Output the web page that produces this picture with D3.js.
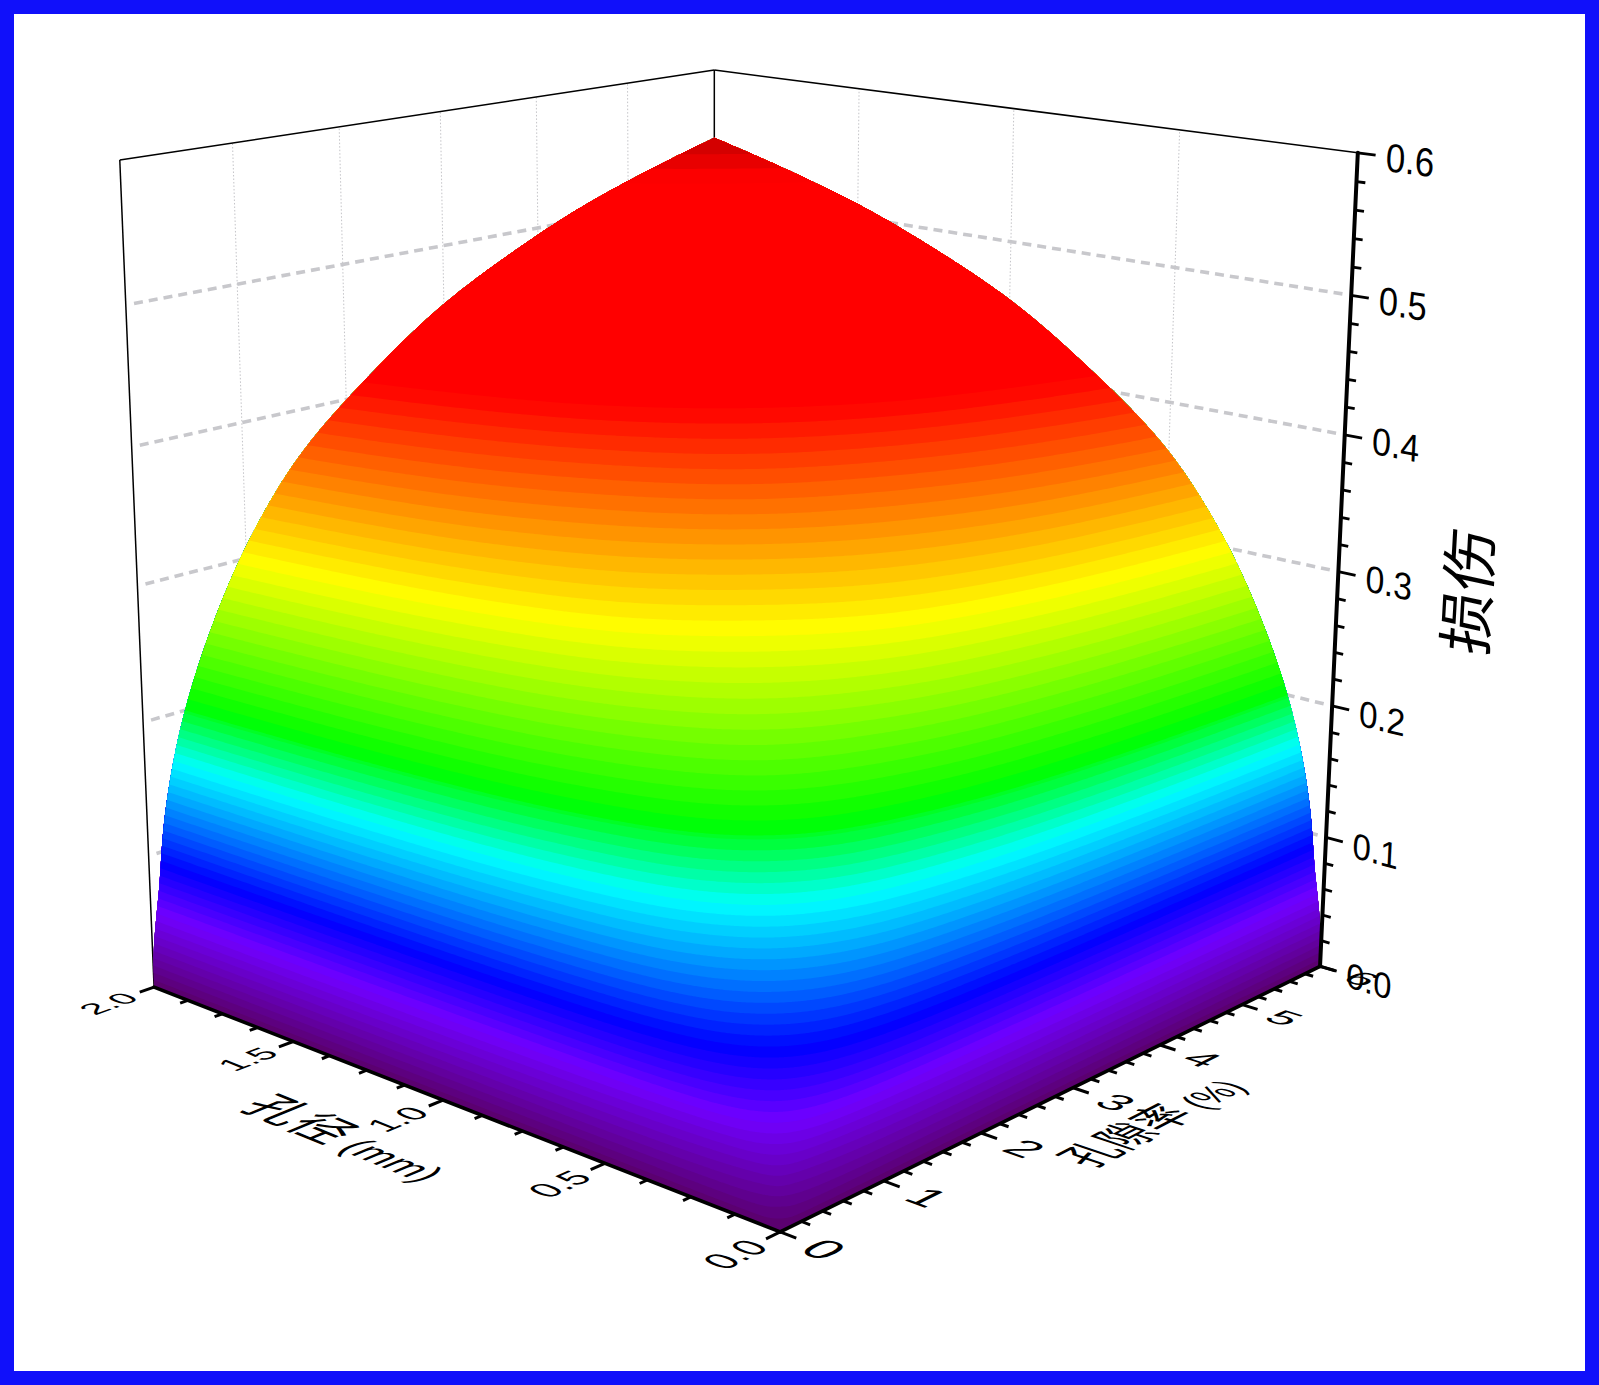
<!DOCTYPE html>
<html><head><meta charset="utf-8">
<script src="https://cdnjs.cloudflare.com/ajax/libs/d3/7.8.5/d3.min.js"></script>
<style>html,body{margin:0;padding:0;background:#fff}svg{display:block}</style>
</head><body><svg id="c" width="1599" height="1385"></svg>
<script>
// ---- data ----
const diameters = [0,0.025,0.05,0.1,0.2,0.35,0.5,0.75,1,1.25,1.5,1.75,2];
const porosities = [0,0.075,0.15,0.3,0.6,1.05,1.5,2.25,3,3.75,4.5,5.25,6];
// damage: one row per porosity, one column per diameter
const damage = [
[0,0,0,0,0,0,0,0,0,0,0,0,0],
[0,.0085,.0150,.0222,.0307,.0394,.0454,.0519,.0570,.0607,.0638,.0662,.0683],
[0,.0150,.0264,.0390,.0541,.0693,.0799,.0913,.1003,.1069,.1123,.1165,.1201],
[0,.0222,.0390,.0577,.0799,.1024,.1180,.1349,.1482,.1579,.1659,.1721,.1775],
[0,.0307,.0541,.0799,.1106,.1417,.1634,.1868,.2052,.2187,.2297,.2383,.2457],
[0,.0394,.0693,.1024,.1417,.1818,.2095,.2395,.2631,.2804,.2945,.3055,.3150],
[0,.0454,.0799,.1180,.1634,.2095,.2415,.2760,.3032,.3231,.3395,.3522,.3631],
[0,.0519,.0913,.1349,.1868,.2395,.2760,.3154,.3465,.3693,.3880,.4025,.4150],
[0,.0570,.1003,.1482,.2052,.2631,.3032,.3465,.3807,.4057,.4263,.4422,.4559],
[0,.0607,.1069,.1579,.2187,.2804,.3231,.3693,.4057,.4325,.4544,.4713,.4859],
[0,.0638,.1123,.1659,.2297,.2945,.3395,.3880,.4263,.4544,.4773,.4952,.5105],
[0,.0662,.1165,.1721,.2383,.3055,.3522,.4025,.4422,.4713,.4952,.5137,.5296],
[0,.0683,.1201,.1775,.2457,.3150,.3631,.4150,.4559,.4859,.5105,.5296,.546]];
const diamTicks = [0,0.5,1,1.5,2];
const diamLabels = ["0.0","0.5","1.0","1.5","2.0"];
const poroTicks = [0,1,2,3,4,5,6];
const poroLabels = ["0","1","2","3","4","5","6"];
const zTicks = [0,0.1,0.2,0.3,0.4,0.5,0.6];
const zLabels = ["0.0","0.1","0.2","0.3","0.4","0.5","0.6"];
const colorStops = [0,0.056,0.092,0.165,0.205,0.30,0.41,0.525,0.546,0.6];
const colorValues = ["#5a0069","#7000ff","#0000ff","#00ffff","#00ff00","#ffff00","#ff0000","#ff0000","#c80000","#800000"];
const levelStepLow = 0.0055, levelStepHigh = 0.0075, levelSplit = 0.2;

// ---- scales into the unit cube ----
const sd = d3.scaleLinear([0,2],[0,1]);
const sp = d3.scaleLinear([0,6],[0,1]);
const sz = d3.scaleLinear([0,0.6],[0,1]);
const colour = d3.scaleLinear(colorStops,colorValues).interpolate(d3.interpolateRgb).clamp(true);

// ---- camera: solved from where the cube's corners sit on screen ----
const anchors = [
 [[0,0,0],[780,1232]],[[1,0,0],[154,987]],[[0,1,0],[1320,966]],[[1,1,0],[714,788]],
 [[1,0,1],[120,160]],[[0,1,1],[1358,153]],[[1,1,1],[714,70]]];
function solveCamera(){
  const A=[],b=[];
  anchors.forEach(([[X,Y,Z],[u0,v0]])=>{
    const u=u0/1000,v=v0/1000;
    A.push([X,Y,Z,1,0,0,0,0,-u*X,-u*Y,-u*Z]);b.push(u);
    A.push([0,0,0,0,X,Y,Z,1,-v*X,-v*Y,-v*Z]);b.push(v);
  });
  const n=11,M=d3.range(n).map(i=>d3.range(n+1).map(j=>{
    let s=0;for(let r=0;r<A.length;r++)s+=A[r][i]*(j<n?A[r][j]:b[r]);return s;}));
  for(let c=0;c<n;c++){
    let pv=c;for(let r=c+1;r<n;r++)if(Math.abs(M[r][c])>Math.abs(M[pv][c]))pv=r;
    [M[c],M[pv]]=[M[pv],M[c]];
    for(let r=0;r<n;r++){if(r===c)continue;const f=M[r][c]/M[c][c];for(let k=c;k<=n;k++)M[r][k]-=f*M[c][k];}
  }
  return d3.range(n).map(i=>M[i][n]/M[i][i]);
}
const h=solveCamera();
function P(a,b,c){
  const w=h[8]*a+h[9]*b+h[10]*c+1;
  return [1000*(h[0]*a+h[1]*b+h[2]*c+h[3])/w,1000*(h[4]*a+h[5]*b+h[6]*c+h[7])/w];
}

// ---- monotone cubic used to tessellate the table smoothly ----
const squash=t=>Math.pow(t,0.4);
function mono(xs0,ys,xmax){
  const xs=xs0.map(x=>squash(x/xmax));
  const n=xs.length,dx=[],m=[],t=new Array(n);
  for(let i=0;i<n-1;i++){dx[i]=xs[i+1]-xs[i];m[i]=(ys[i+1]-ys[i])/dx[i];}
  t[0]=m[0];t[n-1]=m[n-2];
  for(let i=1;i<n-1;i++){
    if(m[i-1]*m[i]<=0)t[i]=0;
    else{const w1=2*dx[i]+dx[i-1],w2=dx[i]+2*dx[i-1];t[i]=(w1+w2)/(w1/m[i-1]+w2/m[i]);}
  }
  return x0=>{
    const x=squash(x0/xmax);
    let i=d3.bisectRight(xs,x)-1;i=Math.max(0,Math.min(n-2,i));
    const s=(x-xs[i])/dx[i],s2=s*s,s3=s2*s;
    return (2*s3-3*s2+1)*ys[i]+(s3-2*s2+s)*dx[i]*t[i]+(-2*s3+3*s2)*ys[i+1]+(s3-s2)*dx[i]*t[i+1];
  };
}
const N=300,warp=u=>Math.pow(u,2.4);
const fineD=d3.range(N).map(i=>2*warp(i/(N-1)));
const fineP=d3.range(N).map(i=>6*warp(i/(N-1)));
const rowFns=damage.map(r=>mono(diameters,r,2));
const field=new Float64Array(N*N);
fineD.forEach((d,i)=>{
  const col=mono(porosities,rowFns.map(f=>f(d)),6);
  fineP.forEach((p,j)=>{field[i+j*N]=col(p);});
});
function zAt(x,y){
  const fx=Math.max(0,Math.min(N-1,x-0.5)),fy=Math.max(0,Math.min(N-1,y-0.5));
  const i=Math.min(N-2,Math.floor(fx)),j=Math.min(N-2,Math.floor(fy)),a=fx-i,b=fy-j;
  return (1-b)*((1-a)*field[i+j*N]+a*field[i+1+j*N])+b*((1-a)*field[i+(j+1)*N]+a*field[i+1+(j+1)*N]);
}

// ---- drawing ----
const svg=d3.select("#c");
svg.append("rect").attr("width",1599).attr("height",1385).attr("fill","#fff");
const fontFam='"Liberation Sans","Noto Sans CJK SC",sans-serif';
const seg=(g,a,b,sw,col,dash)=>{
  const p=P(...a),q=P(...b);
  const l=g.append("line").attr("x1",p[0]).attr("y1",p[1]).attr("x2",q[0]).attr("y2",q[1])
    .attr("stroke",col).attr("stroke-width",sw);
  if(dash)l.attr("stroke-dasharray",dash);
  return l;
};
// walls
const walls=svg.append("g");
zTicks.slice(1,-1).forEach(z=>{
  const c=sz(z);
  seg(walls,[1,0.012,c],[1,1,c],3.6,"#c8c8cc","9 6");
  seg(walls,[0.012,1,c],[1,1,c],3.6,"#c8c8cc","9 6");
});
poroTicks.slice(1,-1).forEach(p=>seg(walls,[1,sp(p),0],[1,sp(p),1],1,"#c4c4c8","1.5 2"));
diamTicks.slice(1,-1).forEach(d=>seg(walls,[sd(d),1,0],[sd(d),1,1],1,"#c4c4c8","1.5 2"));
seg(walls,[1,0,0],[1,0,1],1.5,"#000");
seg(walls,[1,0,1],[1,1,1],1.5,"#000");
seg(walls,[0,1,1],[1,1,1],1.5,"#000");
seg(walls,[1,1,0],[1,1,1],1.5,"#000");

// surface: one filled region per contour level
const levels=d3.range(0,levelSplit,levelStepLow).concat(d3.range(levelSplit,0.6,levelStepHigh));
const contours=d3.contours().size([N,N]).smooth(true).thresholds(levels)(Array.from(field));
const surf=svg.append("g");
const pathOf=mp=>{
  const pth=d3.path();
  mp.coordinates.forEach(poly=>poly.forEach(ring=>{
    ring.forEach((pt,k)=>{
      const fx=Math.max(0,Math.min(N-1,pt[0]-0.5)),fy=Math.max(0,Math.min(N-1,pt[1]-0.5));
      const u=warp(fx/(N-1)),v=warp(fy/(N-1));
      const s=P(u,v,sz(zAt(pt[0],pt[1])));
      if(k===0)pth.moveTo(s[0],s[1]);else pth.lineTo(s[0],s[1]);
    });
    pth.closePath();
  }));
  return pth.toString();
};
contours.forEach((c,i)=>{
  if(!c.coordinates.length)return;
  const next=i+1<levels.length?levels[i+1]:0.6;
  surf.append("path").attr("d",pathOf(c)).attr("fill",colour((c.value+next)/2)).attr("fill-rule","evenodd");
});

// labels lying in the cube's planes
function label(g,txt,q,ux,uy,k,extra){
  const fs=20,e=1e-3,o=P(...q);
  const dir=(u)=>{const r=P(q[0]+u[0]*e,q[1]+u[1]*e,q[2]+u[2]*e);return [(r[0]-o[0])/e*k/fs,(r[1]-o[1])/e*k/fs];};
  const X=dir(ux),Y=dir(uy);
  const t=g.append("text")
    .attr("transform",`matrix(${X[0]},${X[1]},${-Y[0]},${-Y[1]},${o[0]},${o[1]})`)
    .attr("font-family",fontFam).attr("font-size",fs).attr("text-anchor","middle").attr("dy","0.36em").attr("fill","#000");
  if(extra){t.append("tspan").text(txt);t.append("tspan").attr("font-size",fs*0.8).text(extra);}
  else t.text(txt);
}
const ax=svg.append("g");
const sub=(arr,n)=>d3.merge(d3.pairs(arr).map(([a,b])=>d3.range(1,n).map(i=>a+(b-a)*i/n)));
// diameter axis
seg(ax,[0,0,0],[1,0,0],3.6,"#000").attr("stroke-linecap","round");
diamTicks.forEach(d=>seg(ax,[sd(d),0,0],[sd(d),-0.022,0],3,"#000"));
sub(diamTicks,4).forEach(d=>seg(ax,[sd(d),0,0],[sd(d),-0.012,0],3,"#000"));
diamTicks.forEach((d,i)=>label(ax,diamLabels[i],[sd(d),-0.07,0],[0,1,0],[1,0,0],0.05));
label(ax,"孔径",[0.503,-0.142,0],[-1,0,0],[0,1,0],0.072," (mm)");
// porosity axis
seg(ax,[0,0,0],[0,1,0],3.6,"#000").attr("stroke-linecap","round");
poroTicks.forEach(p=>seg(ax,[-0.022,sp(p),0],[0,sp(p),0],3,"#000"));
sub(poroTicks,5).forEach(p=>seg(ax,[-0.012,sp(p),0],[0,sp(p),0],3,"#000"));
poroTicks.forEach((p,i)=>label(ax,poroLabels[i],[-0.06,sp(p),0],[-1,0,0],[0,1,0],0.062));
label(ax,"孔隙率",[-0.122,0.482,0],[0,1,0],[1,0,0],0.066," (%)");
// damage axis
seg(ax,[0,1,0],[0,1,1],4,"#000").attr("stroke-linecap","round");
zTicks.forEach(z=>seg(ax,[-0.024,1,sz(z)],[0,1,sz(z)],2.8,"#000"));
sub(zTicks,5).forEach(z=>seg(ax,[-0.012,1,sz(z)],[0,1,sz(z)],2.8,"#000"));
zTicks.forEach((z,i)=>label(ax,zLabels[i],[-0.07,1,sz(z)],[-1,0,0],[0,0,1],0.046));
label(ax,"损伤",[-0.177,1,0.51],[0,0,1],[1,0,0],0.075);

// outer frame
svg.append("rect").attr("x",7).attr("y",7).attr("width",1585).attr("height",1371)
  .attr("fill","none").attr("stroke","#1010fa").attr("stroke-width",14);
</script></body></html>
